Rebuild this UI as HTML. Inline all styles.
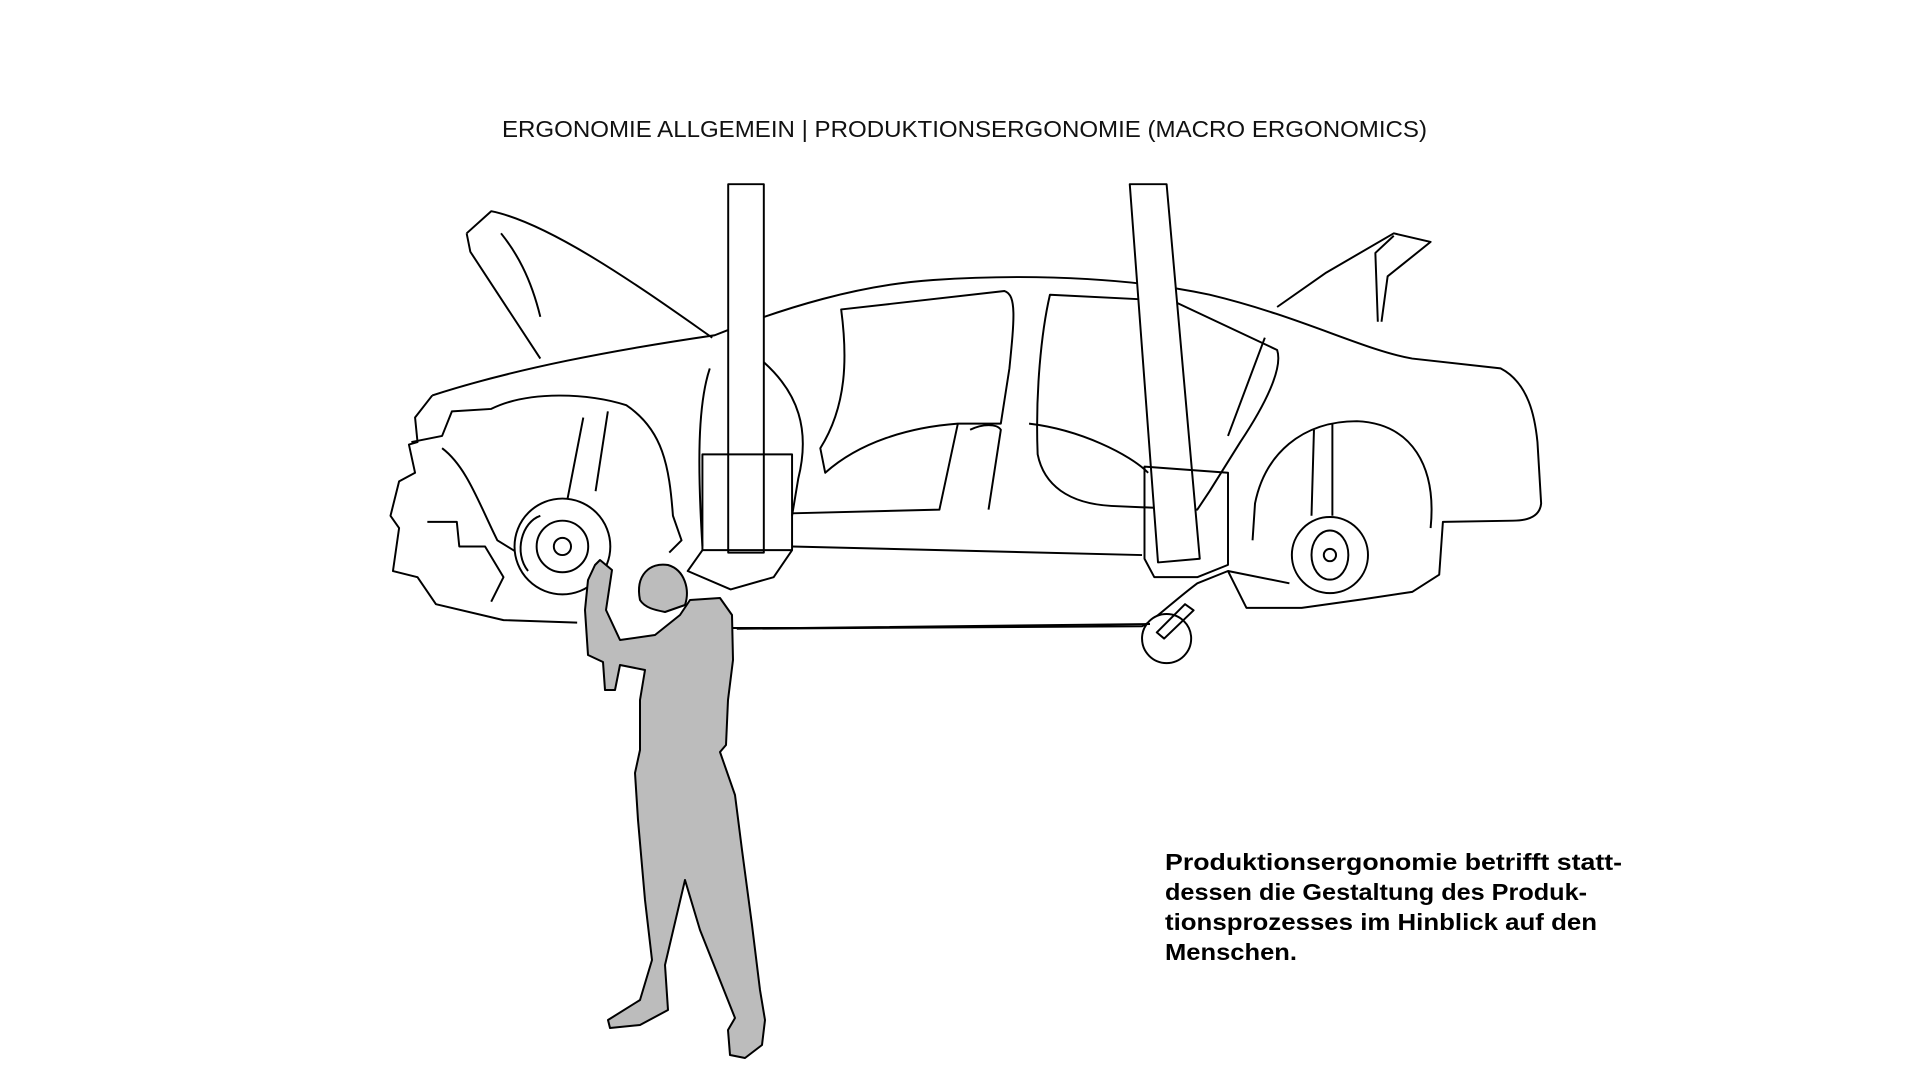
<!DOCTYPE html>
<html><head><meta charset="utf-8"><style>
html,body{margin:0;padding:0;background:#fff;}
svg{display:block;}
</style></head><body>
<svg width="1920" height="1080" viewBox="0 0 1920 1080" xmlns="http://www.w3.org/2000/svg">
<rect width="1920" height="1080" fill="#fff"/>
<text x="502" y="137" font-family="Liberation Sans, sans-serif" font-size="23" fill="#111" textLength="925" lengthAdjust="spacingAndGlyphs">ERGONOMIE ALLGEMEIN | PRODUKTIONSERGONOMIE (MACRO ERGONOMICS)</text>
<g font-family="Liberation Sans, sans-serif" font-size="23" font-weight="bold" fill="#000">
<text x="1165" y="878" textLength="457" lengthAdjust="spacingAndGlyphs" transform="translate(0,-8)">Produktionsergonomie betrifft statt-</text>
<text x="1165" y="908" textLength="422" lengthAdjust="spacingAndGlyphs" transform="translate(0,-8)">dessen die Gestaltung des Produk-</text>
<text x="1165" y="938" textLength="432" lengthAdjust="spacingAndGlyphs" transform="translate(0,-8)">tionsprozesses im Hinblick auf den</text>
<text x="1165" y="968" textLength="132" lengthAdjust="spacingAndGlyphs" transform="translate(0,-8)">Menschen.</text>
</g>
<g transform="scale(1.228)" fill="none" stroke="#000" stroke-width="1.6" stroke-linejoin="round">
<path d="M380,190 L400,172 C450,182 530,240 580,275 M380,190 L383,205 L440,292 M408,190 C420,205 432,225 440,258"/>
<path d="M1040,250 L1080,222 L1135,190 L1165,197 L1130,225 L1125,262 M1135,192 L1120,206 L1122,262"/>
<path d="M352,322 C420,300 500,285 582,273 C640,250 700,232 760,228 C850,222 930,228 985,240 C1060,258 1110,285 1150,292 L1222,300 C1245,312 1250,340 1252,360 L1255,410 C1254,420 1245,424 1232,424 L1175,425 L1172,468 L1150,482 L1110,488 L1060,495 L1015,495 L1000,465"/>
<path d="M1165,430 C1170,380 1150,345 1105,343 C1060,343 1030,370 1022,410 L1020,440"/>
<path d="M352,322 L338,340 L340,360 L333,362 L338,385 L325,392 L318,420 L325,430 L320,465 L340,470 L355,492 L410,505 L470,507"/>
<path d="M335,360 L360,355 L368,335 L400,333 C430,318 480,320 510,330 C540,350 545,380 548,420 L555,440 L545,450"/>
<path d="M348,425 L372,425 L374,445 L395,445 L410,470 L400,490 M360,365 C380,380 390,410 405,440 L470,480"/>
<path d="M685,252 L818,237 C828,240 826,260 822,300 L815,345 L780,345 C740,348 700,360 672,385 L668,365 C690,330 690,290 685,252 Z"/>
<path d="M855,240 L955,245 L1040,285 C1045,300 1030,330 1010,360 L985,400 L975,415 L905,412 C870,410 850,395 845,370 C843,320 848,270 855,240 Z"/>
<path d="M1000,355 L1030,275 M578,300 C568,330 568,380 572,445 M622,295 C650,320 660,350 650,390 L645,420"/>
<path d="M790,350 C800,345 812,345 815,350 L805,415 M838,345 C880,350 920,370 935,385 M780,345 L765,415 L645,418"/>
<path d="M645,445 L930,452"/>
<rect x="593" y="150" width="29" height="300" fill="#fff"/>
<rect x="572" y="370" width="73" height="78"/>
<path d="M572,448 L560,465 L595,480 L630,470 L645,448"/>
<path d="M920,150 L950,150 L977,455 L943,458 Z" fill="#fff"/>
<path d="M932,380 L1000,385 L1000,460 L975,470 L940,470 L932,455 Z"/>
<path d="M475,340 L462,407 M495,335 L485,400"/>
<circle cx="458" cy="445" r="39" fill="#fff"/><circle cx="458" cy="445" r="21"/><circle cx="458" cy="445" r="7"/>
<path d="M440,420 C425,425 418,450 430,465"/>
<path d="M1070,350 L1068,420 M1085,345 L1085,420"/>
<circle cx="1083" cy="452" r="31" fill="#fff"/><ellipse cx="1083" cy="452" rx="15" ry="20"/><circle cx="1083" cy="452" r="5"/>
<path d="M600,512 L930,510 C940,505 955,490 975,475 L1000,465 L1050,475"/>
<circle cx="950" cy="520" r="20" fill="#fff"/>
<path d="M942,515 L965,492 L972,497 L948,520 Z"/>
</g>
<g fill="#bcbcbc" stroke="#000" stroke-width="2" stroke-linejoin="round">
<path d="M600,560 L612,570 L606,610 L620,640 L655,635 L680,615 L690,600 L720,598 L732,615 L733,660 L728,700 L726,745 L720,752 L735,795 L742,850 L752,925 L760,990 L765,1020 L762,1045 L745,1058 L730,1055 L728,1030 L735,1018 L700,930 L685,880 L665,965 L668,1010 L640,1025 L610,1028 L608,1020 L640,1000 L652,960 L645,900 L638,820 L635,773 L640,750 L640,700 L645,670 L620,665 L615,690 L605,690 L603,662 L588,655 L585,610 L588,580 L595,565 Z"/>
<path d="M640,600 C635,575 650,562 668,565 C685,570 690,590 685,605 L665,612 C655,610 645,608 640,600 Z"/>
</g>
<path d="M733,628 L800,628 L1150,624" stroke="#000" stroke-width="2" fill="none"/>
</svg>
</body></html>
